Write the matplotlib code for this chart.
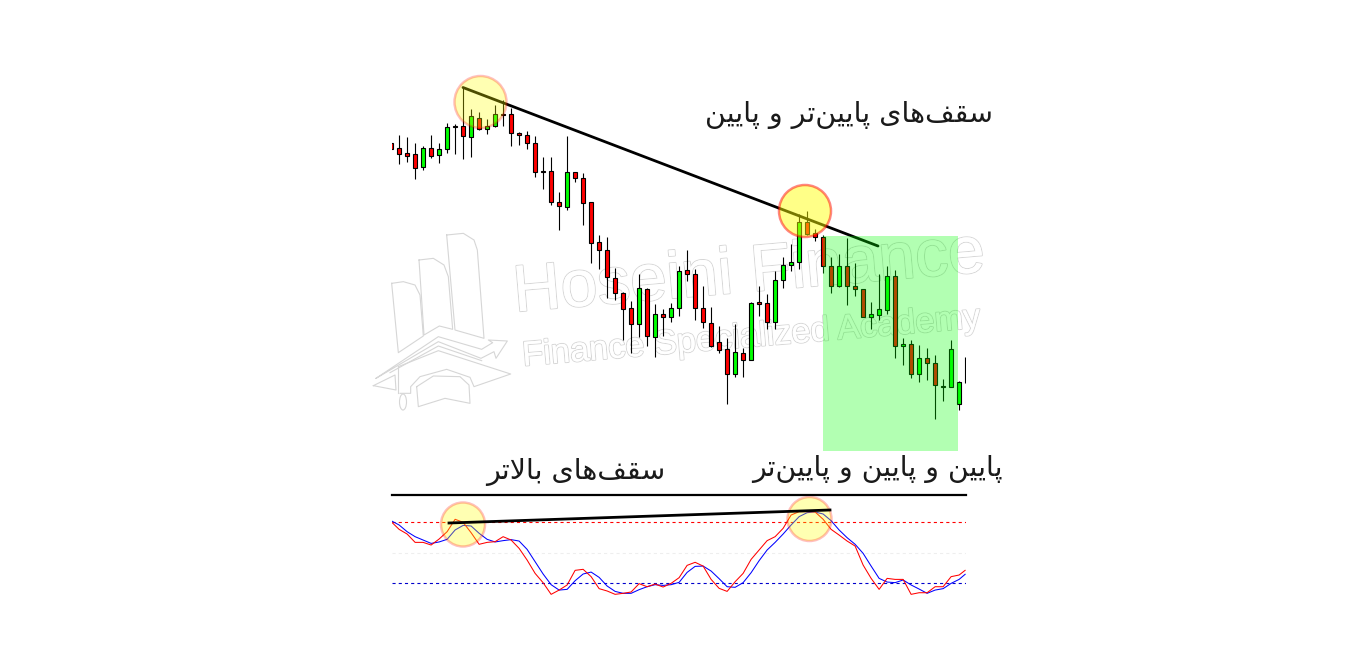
#!/usr/bin/env python

import numpy as np
import matplotlib
matplotlib.use('Agg')
import matplotlib.pyplot as plt
import matplotlib.patheffects as pe
from matplotlib.patches import Circle, Rectangle, Ellipse

W, H = 1357, 660

# candles. price 0 sits at the bottom of the shaded box.
# the last entry is the unfinished bar, only a wick is visible
opens = [307, 302, 297, 296, 283, 302, 295, 301, 324, 324, 313, 332, 321, 324, 336, 336, 317, 315,
         307, 279, 279, 248, 243, 278, 272, 248, 208, 200, 172, 157, 142, 126, 161, 113, 136, 133,
         142, 180, 176, 142, 127, 108, 101, 76, 97, 90, 148, 147, 128, 170, 185, 188, 228, 217,
         213, 184, 164, 184, 164, 161, 133, 135, 140, 174, 104, 106, 76, 92, 87, 64, 63, 46, np.nan]
closes = [301, 296, 294, 282, 302, 294, 301, 323, 323, 314, 334, 321, 324, 336, 335, 317, 315, 307,
          278, 278, 248, 244, 278, 272, 247, 207, 200, 173, 157, 141, 126, 162, 114, 136, 133, 142,
          179, 176, 142, 128, 104, 100, 76, 98, 90, 147, 146, 128, 170, 185, 188, 228, 216, 213,
          184, 164, 184, 164, 161, 133, 136, 141, 174, 104, 106, 76, 92, 87, 65, 63, 101, 68, np.nan]
highs = [307, 315, 313, 307, 304, 315, 307, 327, 326, 363, 341, 338, 331, 345, 350, 342, 318, 319,
         314, 293, 293, 258, 314, 278, 277, 248, 215, 213, 182, 158, 149, 176, 162, 146, 141, 147,
         184, 200, 181, 164, 143, 124, 112, 126, 102, 148, 164, 156, 179, 193, 206, 236, 239, 221,
         215, 193, 196, 212, 187, 161, 148, 176, 184, 180, 112, 110, 105, 102, 95, 71, 110, 69, 93]
lows = [301, 286, 288, 271, 280, 292, 287, 297, 296, 291, 293, 320, 316, 323, 324, 304, 305, 301,
        273, 261, 245, 220, 240, 268, 225, 187, 181, 152, 150, 110, 97, 113, 104, 93, 114, 128,
        134, 169, 130, 122, 103, 97, 46, 73, 73, 90, 134, 121, 121, 162, 179, 181, 215, 209,
        177, 157, 163, 145, 154, 133, 121, 130, 136, 92, 85, 72, 68, 70, 31, 49, 63, 40, 67]

# stochastic oscillator
stoch_k = [80.7, 73.1, 68.5, 60.3, 60.3, 57.7, 63.6, 70.8, 83.0, 80.0, 69.8, 58.4, 60.3, 61.0, 65.9,
           62.6, 54.4, 42.9, 29.8, 20.6, 9.2, 13.4, 18.4, 32.8, 33.8, 26.6, 14.8, 12.5, 9.2, 10.2,
           11.5, 19.7, 16.7, 19.3, 16.4, 20.0, 25.6, 37.7, 40.7, 37.0, 23.9, 15.1, 12.1, 21.6, 29.8,
           43.6, 52.8, 62.0, 65.9, 74.1, 87.2, 90.5, 90.5, 90.2, 83.0, 73.1, 67.5, 61.6, 56.7, 38.0,
           24.9, 14.1, 24.9, 23.9, 23.9, 9.2, 10.8, 10.8, 16.7, 16.7, 26.6, 28.2, 32.8]
stoch_d = [81.6, 77.4, 70.8, 65.9, 62.6, 59.3, 60.7, 63.3, 72.5, 77.0, 76.4, 69.2, 63.3, 60.7, 62.0,
           63.0, 61.6, 53.4, 41.3, 29.2, 18.7, 13.4, 14.1, 22.6, 29.2, 31.1, 25.9, 17.4, 12.1, 10.2,
           10.2, 13.8, 16.7, 18.7, 18.0, 18.7, 21.0, 30.8, 36.7, 37.0, 32.1, 24.6, 16.7, 16.1, 20.7,
           30.5, 42.3, 52.8, 60.3, 68.5, 77.4, 85.6, 89.5, 90.2, 88.2, 81.6, 72.5, 64.9, 58.4, 49.5,
           37.0, 24.9, 21.3, 20.7, 23.3, 18.4, 14.4, 10.2, 13.4, 14.8, 20.0, 23.9, 28.9]
stoch_levels = [80, 50, 20]
level_colors = ['#ff0000', '#eeeeee', '#0000cc']

bar_index = list(range(72)) + [71.75]

title_lower = 'سقف\u200cهای پایین\u200cتر و پایین'
title_higher = 'سقف\u200cهای بالاتر'
title_low = 'پایین و پایین و پایین\u200cتر'
wm_big = 'Hoseini Finance'
wm_small = 'Finance Specialized Academy'

# isolated, final, initial, medial
FORMS = {'ا': (0xFE8D, 0xFE8E), 'ب': (0xFE8F, 0xFE90, 0xFE91, 0xFE92), 'پ': (0xFB56, 0xFB57, 0xFB58, 0xFB59),
         'ت': (0xFE95, 0xFE96, 0xFE97, 0xFE98), 'ر': (0xFEAD, 0xFEAE), 'س': (0xFEB1, 0xFEB2, 0xFEB3, 0xFEB4),
         'ف': (0xFED1, 0xFED2, 0xFED3, 0xFED4), 'ق': (0xFED5, 0xFED6, 0xFED7, 0xFED8),
         'ل': (0xFEDD, 0xFEDE, 0xFEDF, 0xFEE0), 'ن': (0xFEE5, 0xFEE6, 0xFEE7, 0xFEE8),
         'ه': (0xFEE9, 0xFEEA, 0xFEEB, 0xFEEC), 'و': (0xFEED, 0xFEEE), 'ی': (0xFBFC, 0xFBFD, 0xFBFE, 0xFBFF)}


# matplotlib has no arabic shaping, so pick the presentation forms by hand
# and hand them over in visual order
def shape(text):
    text = text.replace('لا', '\uFEFB')
    out = []
    for i, ch in enumerate(text):
        if ch == '\uFEFB':
            prev = text[i - 1] if i > 0 else ' '
            out.append('\uFEFC' if prev in FORMS and len(FORMS[prev]) == 4 else ch)
            continue
        if ch not in FORMS:
            if ch != '\u200c':
                out.append(ch)
            continue
        prev = text[i - 1] if i > 0 else ' '
        nxt = text[i + 1] if i + 1 < len(text) else ' '
        join_prev = prev in FORMS and len(FORMS[prev]) == 4
        join_next = len(FORMS[ch]) == 4 and (nxt in FORMS or nxt == '\uFEFB')
        if join_prev and join_next:
            out.append(chr(FORMS[ch][3]))
        elif join_next:
            out.append(chr(FORMS[ch][2]))
        elif join_prev:
            out.append(chr(FORMS[ch][1]))
        else:
            out.append(chr(FORMS[ch][0]))
    return ''.join(reversed(out))


def rowsAxes(fig, left, right, top, bottom, **kw):
    return fig.add_axes([left / W, 1 - bottom / H, (right - left) / W, (bottom - top) / H], **kw)


fig = plt.figure(figsize=(W / 100, H / 100), dpi=100)

# background layer, just the watermark
bg = rowsAxes(fig, 0, W, 0, H)
bg.set_xlim(0, W)
bg.set_ylim(H, 0)
bg.axis('off')

wm_stroke = [pe.withStroke(linewidth=1.4, foreground='#d6d6d6'), pe.Normal()]
bg.text(749, 274.5, wm_big, family='Liberation Sans', fontsize=47.5, rotation=4.9, color='white',
        ha='center', va='center', path_effects=wm_stroke)
bg.text(752, 338, wm_small, family='Liberation Sans', fontsize=24.8, rotation=4.8, color='white',
        ha='center', va='center', path_effects=wm_stroke)

# the logo, traced in crop units (3x, from 370,230)
logo_paths = [
    [(65, 160), (100, 155), (135, 165), (150, 195), (160, 318), (85, 368), (65, 160)],
    [(147, 90), (190, 85), (222, 105), (235, 140), (248, 298), (208, 288), (162, 315), (147, 90)],
    [(230, 15), (280, 10), (312, 30), (322, 60), (342, 325), (255, 300), (230, 15)],
    [(18, 445), (205, 320), (335, 358), (368, 338), (355, 330), (412, 333), (378, 385), (372, 365),
     (333, 385), (205, 335), (18, 445)],
    [(60, 428), (205, 348), (335, 392)],
    [(10, 467), (75, 435), (78, 480), (10, 467)],
    [(85, 410), (205, 362), (422, 432), (312, 470), (300, 442), (230, 418), (150, 440), (122, 470),
     (122, 490), (90, 490)],
    [(140, 470), (190, 438), (270, 440), (297, 465), (300, 520), (225, 505), (145, 530), (140, 470)],
    [(85, 410), (85, 490)],
]
for path in logo_paths:
    xs = [370 + p[0] / 3 for p in path]
    ys = [230 + p[1] / 3 for p in path]
    bg.plot(xs, ys, color='#d6d6d6', lw=0.8)
bg.add_patch(Ellipse((403, 402), 7, 16, fill=False, ec='#d6d6d6', lw=0.8))

# candles
price = rowsAxes(fig, 392, 966, 60, 451)
price.patch.set_alpha(0)
price.axis('off')
price.set_xlim(0.11, 71.86)
price.set_ylim(-1, 390)

x = np.array(bar_index)
o = np.array(opens, dtype=float)
c = np.array(closes, dtype=float)
has_body = ~np.isnan(o)
colors = ['#00ff00' if b >= a else '#ff0000' for a, b in zip(o[has_body], c[has_body])]
price.vlines(x, lows, highs, color='black', lw=0.8, zorder=2)
price.bar(x[has_body], (c - o)[has_body], bottom=o[has_body], width=0.5, color=colors,
          edgecolor='black', lw=0.8, zorder=3)

# oscillator, 0-100 scale
osc = rowsAxes(fig, 392, 966, 502, 603.7)
osc.patch.set_alpha(0)
osc.axis('off')
osc.set_xlim(0.11, 71.86)
osc.set_ylim(0, 100)
for level, col in zip(stoch_levels, level_colors):
    osc.axhline(level, color=col, lw=0.8, dashes=(2.8, 2.8))
osc.plot(x, stoch_d, color='#0000ff', lw=0.75)
osc.plot(x, stoch_k, color='#ff0000', lw=0.75)

# drawing layer on top: trend lines, highlights, texts
top = rowsAxes(fig, 0, W, 0, H)
top.patch.set_alpha(0)
top.set_xlim(0, W)
top.set_ylim(H, 0)
top.axis('off')

pale = dict(fc=(1, 1, 0, 0.3), ec=(1, 0, 0, 0.25), lw=1.8, zorder=4)
top.plot([463, 878], [87.5, 246], color='black', lw=2.0, zorder=2, solid_capstyle='round')
top.add_patch(Rectangle((823, 236), 135, 215, fc='#00ff00', ec='none', alpha=0.3, zorder=3))
top.add_patch(Circle((480.5, 102), 26, **pale))
top.add_patch(Circle((805, 211), 26, fc=(1, 1, 0, 0.47), ec=(1, 0, 0, 0.48), lw=1.8, zorder=4))
top.add_patch(Circle((463, 524.5), 22, **pale))
top.add_patch(Circle((809.5, 519), 22, **pale))
top.plot([449, 830], [523, 510], color='black', lw=2.0, zorder=5)
top.plot([392, 966], [495, 495], color='black', lw=1.6, zorder=5)

fa = dict(family='DejaVu Sans', color='#1a1a1a', ha='center', va='center', zorder=6)
top.text(849, 115, shape(title_lower), fontsize=20.5, **fa)
top.text(576, 472, shape(title_higher), fontsize=20.5, **fa)
top.text(877, 469, shape(title_low), fontsize=20.3, **fa)

fig.savefig('out.png', dpi=100)
